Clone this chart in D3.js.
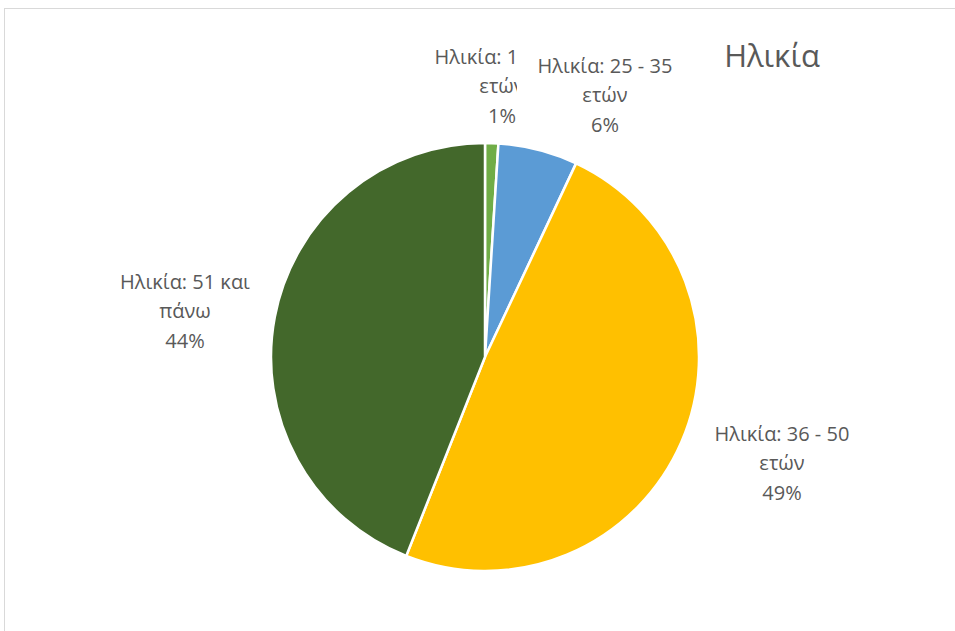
<!DOCTYPE html>
<html>
<head>
<meta charset="utf-8">
<script src="https://cdn.jsdelivr.net/npm/d3@7/dist/d3.min.js"></script>
<style>
  html, body { margin: 0; padding: 0; background: #fff; }
  svg { display: block; }
  text { font-family: "Open Sans", "Noto Sans", sans-serif; fill: #595959; }
</style>
</head>
<body>
<svg id="chart" width="955" height="631"></svg>
<script>
// Age groups and their share of respondents (percent)
const categories = ["Ηλικία: 18 - 24 ετών", "Ηλικία: 25 - 35 ετών", "Ηλικία: 36 - 50 ετών", "Ηλικία: 51 και πάνω"];
const values = [1, 6, 49, 44];
const labelLines = [
  ["Ηλικία: 18 - 24", "ετών"],
  ["Ηλικία: 25 - 35", "ετών"],
  ["Ηλικία: 36 - 50", "ετών"],
  ["Ηλικία: 51 και", "πάνω"]
];
const colors = ["#70AD47", "#5B9BD5", "#FFC000", "#43682B"];
const title = "Ηλικία";

const svg = d3.select("#chart");
const W = 955, H = 631;

// chart area frame
svg.append("rect")
  .attr("x", 4.5).attr("y", 8.5)
  .attr("width", W + 10).attr("height", H + 10)
  .attr("fill", "#fff").attr("stroke", "#d9d9d9").attr("stroke-width", 1);

const cx = 485, cy = 357, R = 214;

const pie = d3.pie().sort(null).value(d => d)(values);
const arc = d3.arc().innerRadius(0).outerRadius(R);

const g = svg.append("g").attr("transform", `translate(${cx},${cy})`);
g.selectAll("path").data(pie).join("path")
  .attr("d", arc)
  .attr("fill", (d, i) => colors[i])
  .attr("stroke", "#fff")
  .attr("stroke-width", 2.5)
  .attr("stroke-linejoin", "round");

// data label anchor points (label box centres); the smallest slice's label box is cut on the right
const labelPos = [
  { x: 502, y: 56, clipRight: 517 },
  { x: 605, y: 65 },
  { x: 782, y: 433 },
  { x: 185, y: 281 }
];
const lineH = 29.5;
const fmt = d3.format(".0%");

const defs = svg.append("defs");
labelPos.forEach((p, i) => {
  const lab = svg.append("g");
  const lines = labelLines[i].concat([fmt(values[i] / 100)]);
  const texts = lab.selectAll("text").data(lines).join("text")
    .attr("x", p.x)
    .attr("y", (d, k) => p.y + k * lineH)
    .attr("text-anchor", "middle")
    .attr("dominant-baseline", "central")
    .attr("font-size", 20)
    .text(d => d);

  if (p.clipRight) {
    defs.append("clipPath").attr("id", "lbl-clip-" + i)
      .append("rect").attr("x", 0).attr("y", 0).attr("width", p.clipRight).attr("height", H);
    lab.attr("clip-path", `url(#lbl-clip-${i})`);
    // drop characters that fall entirely outside the label box
    texts.each(function () {
      const t = d3.select(this);
      const full = this.getComputedTextLength();
      const x0 = p.x - full / 2;
      t.attr("text-anchor", "start").attr("x", x0);
      let s = t.text();
      while (s.length > 1 && this.getStartPositionOfChar(s.length - 1).x >= p.clipRight - 1) {
        s = s.slice(0, -1).replace(/\s+$/, "");
        t.text(s);
      }
    });
  }
});

svg.append("text")
  .attr("x", 772).attr("y", 55)
  .attr("text-anchor", "middle")
  .attr("dominant-baseline", "central")
  .attr("font-size", 31)
  .text(title);
</script>
</body>
</html>
